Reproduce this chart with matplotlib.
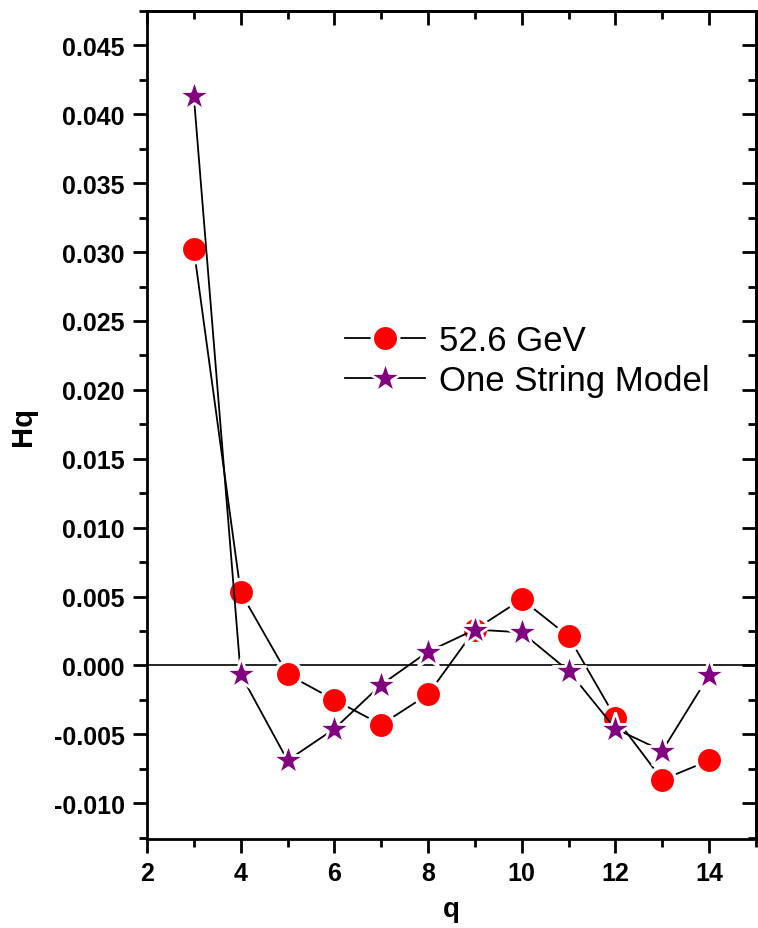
import matplotlib.pyplot as plt
from matplotlib.ticker import MultipleLocator

q = [3, 4, 5, 6, 7, 8, 9, 10, 11, 12, 13, 14]
hq_data = [0.0302, 0.0053, -0.00065, -0.0025, -0.0043, -0.0021, 0.0026, 0.0048, 0.0021, -0.0038, -0.0083, -0.0069]
hq_model = [0.0413, -0.00065, -0.0069, -0.0046, -0.0014, 0.0010, 0.0026, 0.0024, -0.0004, -0.0046, -0.0062, -0.0007]

plt.rcParams['font.family'] = ['Liberation Sans', 'DejaVu Sans']

fig = plt.figure(figsize=(7.58, 9.29), dpi=100)
ax = fig.add_axes([147 / 758, 1 - 840 / 929, (756 - 147) / 758, (840 - 12) / 929])

ax.axhline(0, color='black', linewidth=1.2, zorder=1)
ax.plot(q, hq_data, color='black', linewidth=1.3, marker='o', markersize=19,
        markerfacecolor='red', markeredgecolor='white', markeredgewidth=2.5, label='52.6 GeV', zorder=3)
ax.plot(q, hq_model, color='black', linewidth=1.3, marker='*', markersize=25,
        markerfacecolor='purple', markeredgecolor='white', markeredgewidth=2, label='One String Model', zorder=4)

ax.set_xlim(2, 15)
ax.set_ylim(-0.0126, 0.0475)
ax.xaxis.set_minor_locator(MultipleLocator(1))
ax.yaxis.set_minor_locator(MultipleLocator(0.0025))
ax.set_yticks([-0.010, -0.005, 0.0, 0.005, 0.010, 0.015, 0.020, 0.025, 0.030, 0.035, 0.040, 0.045])
ax.set_yticklabels(['%.3f' % v for v in ax.get_yticks()])
ax.set_xticks([2, 4, 6, 8, 10, 12, 14])

for s in ax.spines.values():
    s.set_linewidth(2)
ax.tick_params(which='major', length=10, width=2, labelsize=18, pad=6)
ax.tick_params(which='minor', length=6, width=2)
ax.tick_params(which='both', direction='out', top=False, right=False)
for lab in ax.get_xticklabels() + ax.get_yticklabels():
    lab.set_fontweight('bold')

# inward ticks on top/right
sec_x = ax.secondary_xaxis('top')
sec_x.set_xticks([2, 4, 6, 8, 10, 12, 14])
sec_x.xaxis.set_minor_locator(MultipleLocator(1))
sec_x.tick_params(which='major', direction='in', length=10, width=2, labeltop=False)
sec_x.tick_params(which='minor', direction='in', length=6, width=2)
sec_x.spines['top'].set_linewidth(2)
sec_y = ax.secondary_yaxis('right')
sec_y.set_yticks([-0.010, -0.005, 0.0, 0.005, 0.010, 0.015, 0.020, 0.025, 0.030, 0.035, 0.040, 0.045])
sec_y.yaxis.set_minor_locator(MultipleLocator(0.0025))
sec_y.tick_params(which='major', direction='in', length=10, width=2, labelright=False)
sec_y.tick_params(which='minor', direction='in', length=6, width=2)
sec_y.spines['right'].set_linewidth(2)

ax.set_xlabel('q', fontsize=20, fontweight='bold', labelpad=8)
ax.set_ylabel('Hq', fontsize=21, fontweight='bold', labelpad=12)

ax.legend(loc='upper left', bbox_to_anchor=(0.297, 0.643), frameon=False, fontsize=25,
          handlelength=2.3, handletextpad=0.4, labelspacing=0.2, borderpad=0)

fig.savefig('out.png', dpi=100)
